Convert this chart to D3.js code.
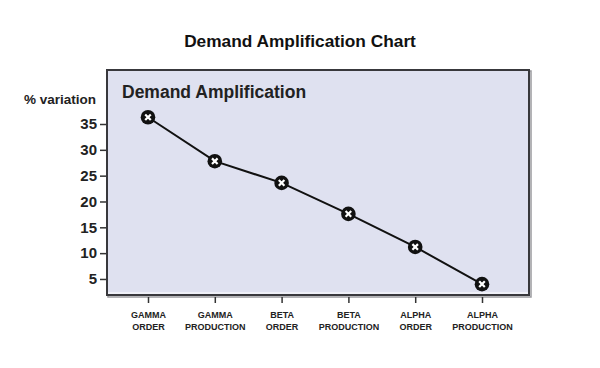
<!DOCTYPE html>
<html><head><meta charset="utf-8">
<script src="https://cdn.jsdelivr.net/npm/d3@7"></script>
<style>body{margin:0;background:#fff}svg{display:block}text{font-family:"Liberation Sans",Arial,Helvetica,sans-serif}</style>
</head><body>
<script>
const categories = [["GAMMA","ORDER"],["GAMMA","PRODUCTION"],["BETA","ORDER"],["BETA","PRODUCTION"],["ALPHA","ORDER"],["ALPHA","PRODUCTION"]];
const values = [36.3, 27.8, 23.6, 17.6, 11.2, 4.0];
const yTicks = [5, 10, 15, 20, 25, 30, 35];
const chartTitle = "Demand Amplification Chart";
const panelTitle = "Demand Amplification";
const yLabel = "% variation";

const W = 600, H = 368;
const box = {x0: 107, x1: 529, y0: 70, y1: 295};
const svg = d3.select("body").append("svg").attr("width", W).attr("height", H);

const x = d3.scalePoint().domain(d3.range(categories.length)).range([148, 482]);
const y = d3.scaleLinear().domain([0, 35]).range([304.8, 124]);

// shadow
svg.append("rect").attr("x", box.x0 + 1).attr("y", box.y0 + 1).attr("width", box.x1 - box.x0 + 1).attr("height", box.y1 - box.y0 + 1)
  .attr("fill", "none").attr("stroke", "#9a9a9e").attr("stroke-width", 1.5);
svg.append("rect").attr("x", box.x0).attr("y", box.y0).attr("width", box.x1 - box.x0).attr("height", box.y1 - box.y0)
  .attr("fill", "#dfe1f0").attr("stroke", "#38383c").attr("stroke-width", 2);
svg.append("line").attr("x1", box.x0 + 1).attr("x2", box.x1 - 1).attr("y1", box.y1 - 2).attr("y2", box.y1 - 2)
  .attr("stroke", "#fff").attr("stroke-width", 1);

svg.append("text").attr("x", 300).attr("y", 47).attr("text-anchor", "middle")
  .attr("font-size", 17.3).attr("font-weight", "bold").attr("fill", "#111").text(chartTitle);
svg.append("text").attr("x", 122).attr("y", 98)
  .attr("font-size", 17.5).attr("font-weight", "bold").attr("fill", "#222").text(panelTitle);
svg.append("text").attr("x", 96).attr("y", 104).attr("text-anchor", "end")
  .attr("font-size", 13.5).attr("font-weight", "bold").attr("fill", "#222").text(yLabel);

// y axis
const yAxis = d3.axisLeft(y).tickValues(yTicks).tickSize(6).tickPadding(3);
const gy = svg.append("g").attr("transform", `translate(${box.x0 - 1},0)`).call(yAxis);
gy.select(".domain").remove();
gy.selectAll("line").attr("stroke", "#333").attr("stroke-width", 1.5);
gy.selectAll("text").attr("font-size", 15).attr("font-weight", "bold").attr("fill", "#222")
  .attr("font-family", '"Liberation Sans",Arial,sans-serif');

// x axis
const xAxis = d3.axisBottom(x).tickSize(6).tickFormat(() => "");
const gx = svg.append("g").attr("transform", `translate(0,${box.y1 + 2})`).call(xAxis);
gx.select(".domain").remove();
gx.selectAll("line").attr("stroke", "#333").attr("stroke-width", 1.5);
gx.selectAll(".tick").each(function(d) {
  const t = d3.select(this).append("text").attr("fill", "#222").attr("font-size", 9)
    .attr("font-weight", "bold").attr("text-anchor", "middle");
  t.append("tspan").attr("x", 0).attr("y", 21).text(categories[d][0]);
  t.append("tspan").attr("x", 0).attr("y", 33).text(categories[d][1]);
});

// line
const line = d3.line().x((d, i) => x(i)).y(d => y(d));
svg.append("path").datum(values).attr("d", line).attr("fill", "none").attr("stroke", "#111").attr("stroke-width", 2);

const m = svg.append("g").selectAll("g").data(values).join("g")
  .attr("transform", (d, i) => `translate(${x(i)},${y(d)})`);
m.append("circle").attr("r", 7.3).attr("fill", "#111");
m.append("path").attr("d", "M-2.8,-2.8L2.8,2.8M-2.8,2.8L2.8,-2.8").attr("stroke", "#fff").attr("stroke-width", 2.2);
</script>
</body></html>
